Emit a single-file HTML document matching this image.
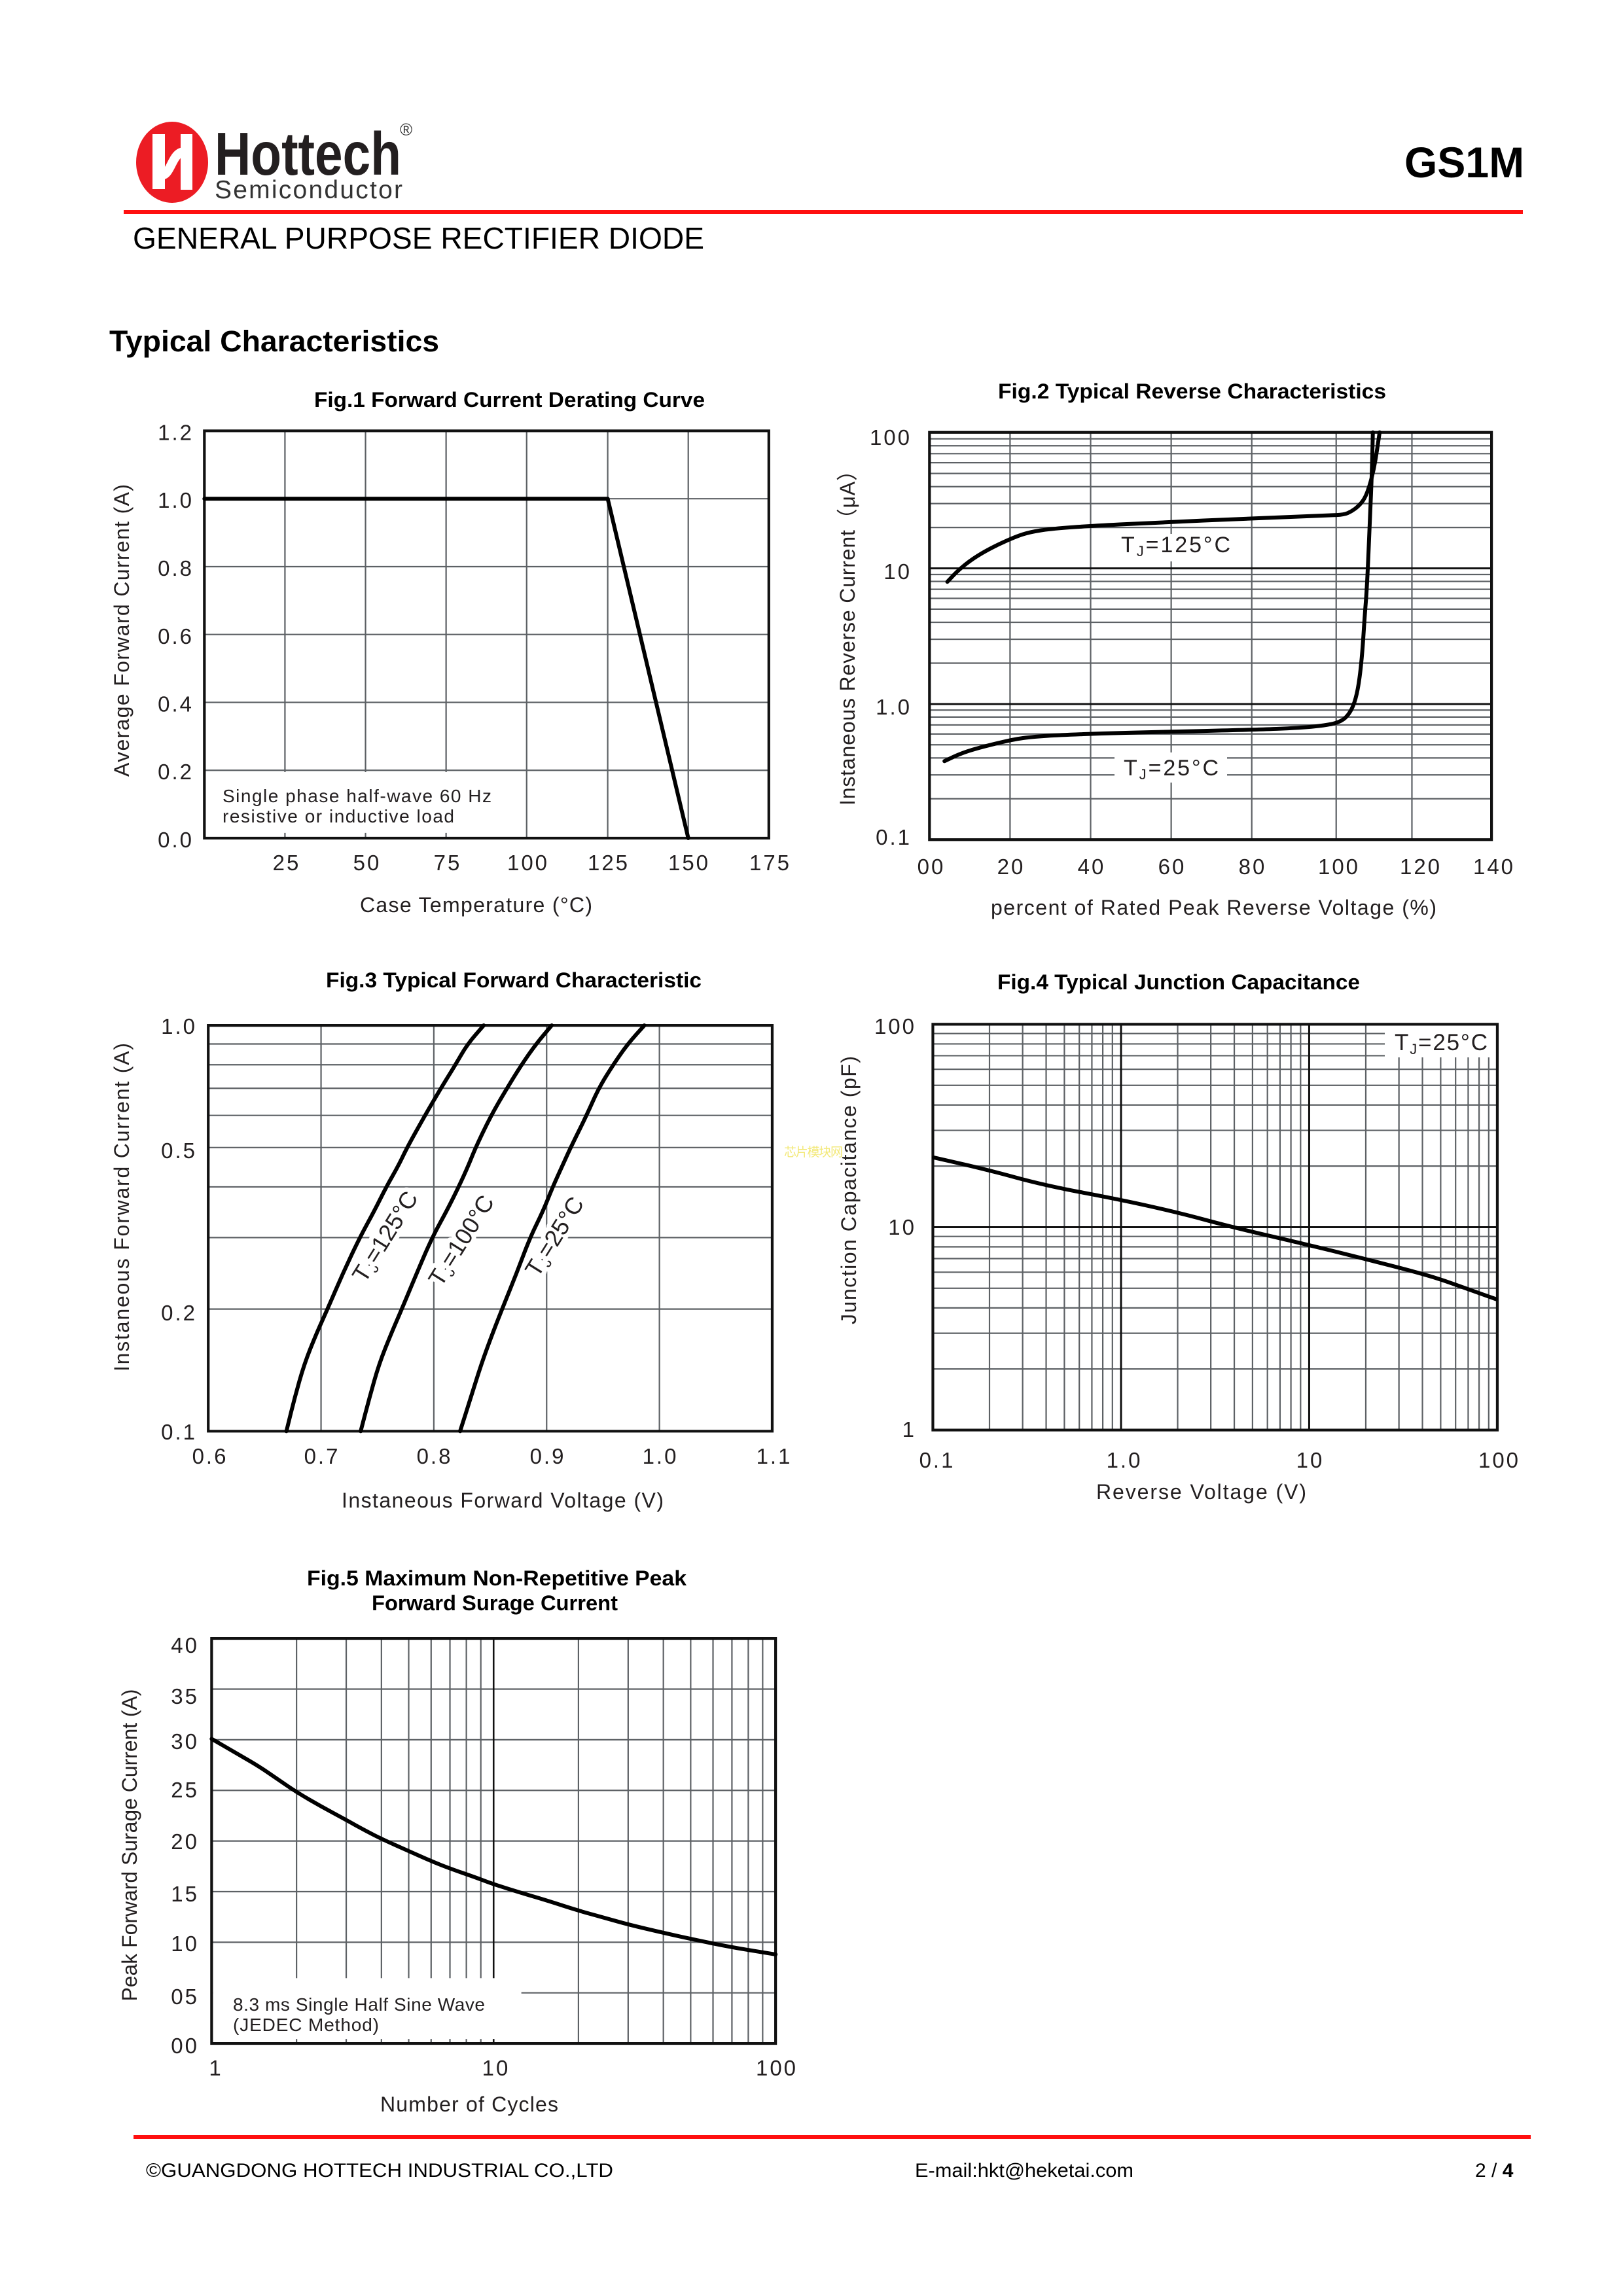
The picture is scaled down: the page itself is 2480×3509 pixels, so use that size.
<!DOCTYPE html>
<html><head><meta charset="utf-8"><style>
html,body{margin:0;padding:0;background:#fff;}
body{width:2480px;height:3509px;overflow:hidden;}
svg{display:block;}
.ns{vector-effect:non-scaling-stroke;}
.tk{font-size:33px;letter-spacing:3px;fill:#231f20;}
.gr{stroke:#5d6165;stroke-width:2.2;fill:none;}
.mj{stroke:#111;stroke-width:3;fill:none;}
.fr{stroke:#111;stroke-width:4.2;fill:none;}
.cv{stroke:#000;stroke-width:6;fill:none;stroke-linejoin:round;stroke-linecap:round;}
</style></head><body>
<svg xmlns="http://www.w3.org/2000/svg" width="2480" height="3509" viewBox="0 0 2480 3509" font-family="'Liberation Sans','Noto Sans CJK SC',sans-serif" fill="#231f20">
<!-- Header -->
<ellipse cx="263" cy="248" rx="55" ry="62" fill="#ec1c24"/>
<rect x="233" y="205" width="19" height="84" fill="#fff"/>
<rect x="276" y="205" width="18" height="85" fill="#fff"/>
<path d="M246,268 C262,268 262,232 282,232" stroke="#fff" stroke-width="14" fill="none"/>
<text x="328" y="267" font-size="93" font-weight="bold" textLength="285" lengthAdjust="spacingAndGlyphs">Hottech</text>
<text x="328" y="303" font-size="39" fill="#333" textLength="287" lengthAdjust="spacing">Semiconductor</text>
<text x="611" y="207" font-size="26" fill="#333">®</text>
<text x="2146" y="271" font-size="66" font-weight="bold" fill="#000" textLength="183" lengthAdjust="spacingAndGlyphs">GS1M</text>
<rect x="189" y="321" width="2138" height="6" fill="#ff1010"/>
<text x="203" y="380" font-size="46" fill="#000" textLength="873" lengthAdjust="spacingAndGlyphs">GENERAL PURPOSE RECTIFIER  DIODE</text>
<text x="167" y="537" font-size="45" font-weight="bold" fill="#000" textLength="504" lengthAdjust="spacingAndGlyphs">Typical Characteristics</text>

<!-- FIG 1 -->
<g transform="translate(100,550) scale(0.73718,0.57692)">
<path class="gr ns" vector-effect="non-scaling-stroke" d="M455,188V1267M622,188V1267M789,188V1267M956,188V1267M1124,188V1267M1291,188V1267M288,367.8H1458M288,547.7H1458M288,727.5H1458M288,907.3H1458M288,1087.2H1458"/>
<rect x="291" y="1092" width="652" height="161" fill="#fff"/>
<rect class="fr ns" vector-effect="non-scaling-stroke" x="288" y="188" width="1170" height="1079"/>
<path class="cv ns" vector-effect="non-scaling-stroke" d="M288,367.8H1124L1291,1267"/>
</g>
<text x="480" y="622" font-size="32" font-weight="bold" fill="#000" textLength="597" lengthAdjust="spacingAndGlyphs">Fig.1  Forward Current Derating Curve</text>
<text transform="translate(197,963.5) rotate(-90)" text-anchor="middle" font-size="32" textLength="447">Average Forward Current (A)</text>
<text x="550" y="1394" font-size="32" textLength="355">Case Temperature (°C)</text>
<text x="340" y="1226" font-size="28" textLength="411">Single phase half-wave 60 Hz</text>
<text x="340" y="1257" font-size="28" textLength="354">resistive or inductive load</text>
<g class="tk" text-anchor="end">
<text x="296" y="672.5">1.2</text><text x="296" y="776">1.0</text><text x="296" y="880">0.8</text><text x="296" y="984">0.6</text><text x="296" y="1087.5">0.4</text><text x="296" y="1191">0.2</text><text x="296" y="1295">0.0</text>
</g>
<g class="tk" text-anchor="middle">
<text x="438" y="1330">25</text><text x="561" y="1330">50</text><text x="684" y="1330">75</text><text x="807" y="1330">100</text><text x="930" y="1330">125</text><text x="1053" y="1330">150</text><text x="1177" y="1330">175</text>
</g>

<!-- FIG 2 -->
<g transform="translate(1250,550) scale(0.73718,0.57692)">
<path class="gr ns" vector-effect="non-scaling-stroke" d="M398,192V1271M565,192V1271M732,192V1271M899,192V1271M1074,192V1271M1231,192V1271
M231,444H1396M231,380.7H1396M231,335.8H1396M231,300.9H1396M231,272.4H1396M231,248.4H1396M231,227.5H1396M231,209.1H1396
M231,803.4H1396M231,740.1H1396M231,695.2H1396M231,660.3H1396M231,631.8H1396M231,607.8H1396M231,586.9H1396M231,568.5H1396
M231,1162.7H1396M231,1099.4H1396M231,1054.5H1396M231,1019.6H1396M231,991.1H1396M231,967.1H1396M231,946.2H1396M231,927.8H1396"/>
<path class="mj ns" vector-effect="non-scaling-stroke" d="M231,552.3H1396M231,911.7H1396"/>
</g>
<rect x="1705" y="816" width="183" height="42" fill="#fff"/>
<rect x="1703" y="1150" width="172" height="46" fill="#fff"/>
<g transform="translate(1250,550) scale(0.73718,0.57692)">
<rect class="fr ns" vector-effect="non-scaling-stroke" x="231" y="192" width="1165" height="1079"/>
<path class="cv ns" vector-effect="non-scaling-stroke" d="M268,588 L279,573 Q290,558 305,542.5 Q320,527 340,512 Q360,497 385,482.5 Q410,468 425,462 Q440,456 460,452 Q480,448 515,444.5 Q550,441 625,436 Q700,431 800,425.5 Q900,420 980,416 Q1060,412 1075,411 Q1090,410 1097.5,406 Q1105,402 1112.5,395 Q1120,388 1126.5,378 Q1133,368 1138,351.5 Q1143,335 1147.5,312.5 Q1152,290 1155,267.5 Q1158,245 1161,218.5 L1164,192"/>
<path class="cv ns" vector-effect="non-scaling-stroke" d="M262,1063 L281,1051.5 Q300,1040 325,1031 Q350,1022 380,1013 Q410,1004 430,1001 Q450,998 475,996 Q500,994 550,991.5 Q600,989 650,987.5 Q700,986 800,983 Q900,980 950,977.5 Q1000,975 1030,971 Q1060,967 1072.5,962 Q1085,957 1092.5,948.5 Q1100,940 1106,925 Q1112,910 1116.5,885 Q1121,860 1124.5,820 Q1128,780 1130.5,730 Q1133,680 1135.5,640 Q1138,600 1141,510 Q1144,420 1146,360 Q1148,300 1149,246 L1150,192"/>
</g>
<text x="1525" y="609" font-size="32" font-weight="bold" fill="#000" textLength="593" lengthAdjust="spacingAndGlyphs">Fig.2  Typical Reverse Characteristics</text>
<text transform="translate(1306,967) rotate(-90)" text-anchor="middle" font-size="32" textLength="528">Instaneous Reverse Current（μA）</text>
<text x="1514" y="1398" font-size="32" textLength="681">percent of Rated  Peak Reverse Voltage (%)</text>
<text x="1713" y="844" font-size="34" textLength="167">T<tspan font-size="22" dy="6">J</tspan><tspan dy="-6">=125°C</tspan></text>
<text x="1717" y="1185" font-size="34" textLength="145">T<tspan font-size="22" dy="6">J</tspan><tspan dy="-6">=25°C</tspan></text>
<g class="tk" text-anchor="end">
<text x="1393" y="680">100</text><text x="1393" y="885">10</text><text x="1393" y="1092">1.0</text><text x="1393" y="1291">0.1</text>
</g>
<g class="tk" text-anchor="middle">
<text x="1423" y="1336">00</text><text x="1545" y="1336">20</text><text x="1668" y="1336">40</text><text x="1791" y="1336">60</text><text x="1914" y="1336">80</text><text x="2046" y="1336">100</text><text x="2171" y="1336">120</text><text x="2283" y="1336">140</text>
</g>

<!-- FIG 3 -->
<g transform="translate(100,1450) scale(0.73718,0.57692)">
<path class="gr ns" vector-effect="non-scaling-stroke" d="M529.8,203V1278M763.6,203V1278M997.4,203V1278M1231.2,203V1278
M296,954.4H1465M296,765.1H1465M296,630.8H1465M296,526.6H1465M296,441.5H1465M296,369.6H1465M296,307.2H1465M296,252.2H1465"/>
<rect class="fr ns" vector-effect="non-scaling-stroke" x="296" y="203" width="1169" height="1075"/>
</g>
<g font-size="36" text-anchor="middle" stroke="#fff" stroke-width="14" paint-order="stroke" stroke-linejoin="round">
<text transform="translate(588.5,1890) rotate(-58)" x="0" y="12">T<tspan font-size="24" dy="6">J</tspan><tspan dy="-6">=125°C</tspan></text>
<text transform="translate(705,1896) rotate(-58)" x="0" y="12">T<tspan font-size="24" dy="6">J</tspan><tspan dy="-6">=100°C</tspan></text>
<text transform="translate(847.5,1890) rotate(-58)" x="0" y="12">T<tspan font-size="24" dy="6">J</tspan><tspan dy="-6">=25°C</tspan></text>
</g>
<g transform="translate(100,1450) scale(0.73718,0.57692)">
<path class="cv ns" vector-effect="non-scaling-stroke" d="M458,1278 L466.5,1234 Q475,1190 485,1145 Q495,1100 507.5,1060 Q520,1020 531.5,987.5 Q543,955 559,907.5 Q575,860 592.5,812.5 Q610,765 625,730 Q640,695 652.5,663 Q665,631 677.5,603 Q690,575 699,551 Q708,527 726.5,484.5 Q745,442 761.5,406 Q778,370 793,339 Q808,308 820.5,280.5 Q833,253 850,228 L867,203"/>
<path class="cv ns" vector-effect="non-scaling-stroke" d="M612,1278 L621,1234 Q630,1190 640,1145 Q650,1100 662.5,1060 Q675,1020 686,987.5 Q697,955 712.5,907.5 Q728,860 744,812.5 Q760,765 775,730 Q790,695 802.5,663 Q815,631 825,603 Q835,575 842.5,551 Q850,527 866,484.5 Q882,442 898.5,406 Q915,370 930,339 Q945,308 960,280.5 Q975,253 991.5,228 L1008,203"/>
<path class="cv ns" vector-effect="non-scaling-stroke" d="M818,1278 L829,1234 Q840,1190 851,1145 Q862,1100 873.5,1060 Q885,1020 895,987.5 Q905,955 920,907.5 Q935,860 949,812.5 Q963,765 976.5,730 Q990,695 1000,663 Q1010,631 1020,603 Q1030,575 1038.5,551 Q1047,527 1063.5,484.5 Q1080,442 1092.5,406 Q1105,370 1120,339 Q1135,308 1150,280.5 Q1165,253 1182.5,228 L1200,203"/>
</g>
<text x="498" y="1509" font-size="32" font-weight="bold" fill="#000" textLength="574" lengthAdjust="spacingAndGlyphs">Fig.3  Typical Forward Characteristic</text>
<text transform="translate(197,1845) rotate(-90)" text-anchor="middle" font-size="32" textLength="502">Instaneous Forward Current  (A)</text>
<text x="522" y="2304" font-size="32" textLength="492">Instaneous Forward Voltage (V)</text>
<g class="tk" text-anchor="end">
<text x="301" y="1580">1.0</text><text x="301" y="1770">0.5</text><text x="301" y="2018">0.2</text><text x="301" y="2200">0.1</text>
</g>
<g class="tk" text-anchor="middle">
<text x="321" y="2237">0.6</text><text x="492" y="2237">0.7</text><text x="664" y="2237">0.8</text><text x="837" y="2237">0.9</text><text x="1009" y="2237">1.0</text><text x="1183" y="2237">1.1</text>
</g>
<text x="1198" y="1767" font-size="19" fill="#f3e97a" textLength="90">芯片模块网</text>

<!-- FIG 4 -->
<g transform="translate(1250,1450) scale(0.73718,0.57692)">
<path class="gr ns" vector-effect="non-scaling-stroke" d="M355.4,200V1275M424.1,200V1275M472.8,200V1275M510.6,200V1275M541.5,200V1275M567.6,200V1275M590.2,200V1275M610.2,200V1275
M745.4,200V1275M814.1,200V1275M862.8,200V1275M900.6,200V1275M931.5,200V1275M957.6,200V1275M980.2,200V1275M1000.2,200V1275
M1135.4,200V1275M1204.1,200V1275M1252.8,200V1275M1290.6,200V1275M1321.5,200V1275M1347.6,200V1275M1370.2,200V1275M1390.2,200V1275
M238,1113.2H1408M238,1018.6H1408M238,951.4H1408M238,899.3H1408M238,856.8H1408M238,820.8H1408M238,789.6H1408M238,762.1H1408
M238,575.7H1408M238,481.1H1408M238,413.9H1408M238,361.8H1408M238,319.3H1408M238,283.3H1408M238,252.1H1408M238,224.6H1408"/>
<path class="mj ns" vector-effect="non-scaling-stroke" d="M628,200V1275M1018,200V1275M238,737.5H1408"/>
</g>
<rect x="2116" y="1567" width="170" height="49" fill="#fff"/>
<g transform="translate(1250,1450) scale(0.73718,0.57692)">
<rect class="fr ns" vector-effect="non-scaling-stroke" x="238" y="200" width="1170" height="1075"/>
<path class="cv ns" vector-effect="non-scaling-stroke" d="M240,553 L295,569 Q350,585 410,606 Q470,627 549,646 Q628,665 689,682.5 Q750,700 805,719 Q860,738 939,761.5 Q1018,785 1076.5,803.5 Q1135,822 1192.5,841 Q1250,860 1275,870 Q1300,880 1325,891.5 Q1350,903 1377.5,915.5 L1405,928"/>
</g>
<text x="1524" y="1512" font-size="32" font-weight="bold" fill="#000" textLength="554" lengthAdjust="spacingAndGlyphs">Fig.4  Typical Junction Capacitance</text>
<text transform="translate(1308,1819) rotate(-90)" text-anchor="middle" font-size="32" textLength="410">Junction Capacitance (pF)</text>
<text x="1675" y="2291" font-size="32" textLength="321">Reverse  Voltage (V)</text>
<text x="2131" y="1605" font-size="35" textLength="142">T<tspan font-size="22" dy="6">J</tspan><tspan dy="-6">=25°C</tspan></text>
<g class="tk" text-anchor="end">
<text x="1400" y="1580">100</text><text x="1400" y="1887">10</text><text x="1400" y="2196">1</text>
</g>
<g class="tk" text-anchor="middle">
<text x="1432" y="2243">0.1</text><text x="1718" y="2243">1.0</text><text x="2002" y="2243">10</text><text x="2291" y="2243">100</text>
</g>

<!-- FIG 5 -->
<g transform="translate(100,2350) scale(0.73718,0.57692)">
<path class="gr ns" vector-effect="non-scaling-stroke" d="M479,267V1340M582,267V1340M655,267V1340M711.5,267V1340M758,267V1340M797,267V1340M831,267V1340M861,267V1340
M1063.4,267V1340M1166.4,267V1340M1239.4,267V1340M1296,267V1340M1342.3,267V1340M1381.5,267V1340M1415.4,267V1340M1445.2,267V1340
M303,1205.9H1472M303,1071.8H1472M303,937.7H1472M303,803.6H1472M303,669.5H1472M303,535.4H1472M303,401.3H1472"/>
<path class="mj ns" vector-effect="non-scaling-stroke" style="stroke-width:2.6" d="M887.5,267V1340"/>
<rect x="306" y="1167" width="639" height="161" fill="#fff"/>
<rect class="fr ns" vector-effect="non-scaling-stroke" x="303" y="267" width="1169" height="1073"/>
<path class="cv ns" vector-effect="non-scaling-stroke" d="M303,533 L326.5,550.5 Q350,568 375,586.5 Q400,605 420,622.5 Q440,640 460,657.5 Q480,675 505,693.5 Q530,712 556,730 Q582,748 601,761.5 Q620,775 637.5,786.5 Q655,798 683,814 Q711,830 735.5,844 Q760,858 780,868 Q800,878 825,889 Q850,900 868.5,909 Q887,918 918.5,930.5 Q950,943 975,952.5 Q1000,962 1031.5,975 Q1063,988 1091.5,998 Q1120,1008 1143.5,1016.5 Q1167,1025 1203.5,1036 Q1240,1047 1270,1055.5 Q1300,1064 1340,1074.5 Q1380,1085 1426,1094.5 L1472,1104"/>
</g>
<text x="469" y="2423" font-size="32" font-weight="bold" fill="#000" textLength="580" lengthAdjust="spacingAndGlyphs">Fig.5  Maximum Non-Repetitive Peak</text>
<text x="568" y="2461" font-size="32" font-weight="bold" fill="#000" textLength="376" lengthAdjust="spacingAndGlyphs">Forward Surage Current</text>
<text transform="translate(209,2820) rotate(-90)" text-anchor="middle" font-size="32" textLength="477">Peak Forward Surage Current (A)</text>
<text x="581" y="3227" font-size="32" textLength="272">Number of Cycles</text>
<text x="356" y="3073" font-size="28" textLength="385">8.3 ms Single Half Sine Wave</text>
<text x="356" y="3104" font-size="28" textLength="223">(JEDEC Method)</text>
<g class="tk" text-anchor="end">
<text x="304" y="2526">40</text><text x="304" y="2604">35</text><text x="304" y="2673">30</text><text x="304" y="2747">25</text><text x="304" y="2826">20</text><text x="304" y="2906">15</text><text x="304" y="2982">10</text><text x="304" y="3063">05</text><text x="304" y="3138">00</text>
</g>
<g class="tk" text-anchor="middle">
<text x="330" y="3172">1</text><text x="758" y="3172">10</text><text x="1187" y="3172">100</text>
</g>

<!-- Footer -->
<rect x="204" y="3263" width="2135" height="6" fill="#ff1010"/>
<text x="223" y="3327" font-size="30" fill="#000" textLength="714" lengthAdjust="spacingAndGlyphs">©GUANGDONG HOTTECH INDUSTRIAL CO.,LTD</text>
<text x="1398" y="3327" font-size="30" fill="#000" textLength="334" lengthAdjust="spacingAndGlyphs">E-mail:hkt@heketai.com</text>
<text x="2254" y="3327" font-size="30" fill="#000">2 / <tspan font-weight="bold">4</tspan></text>
</svg>
</body></html>
